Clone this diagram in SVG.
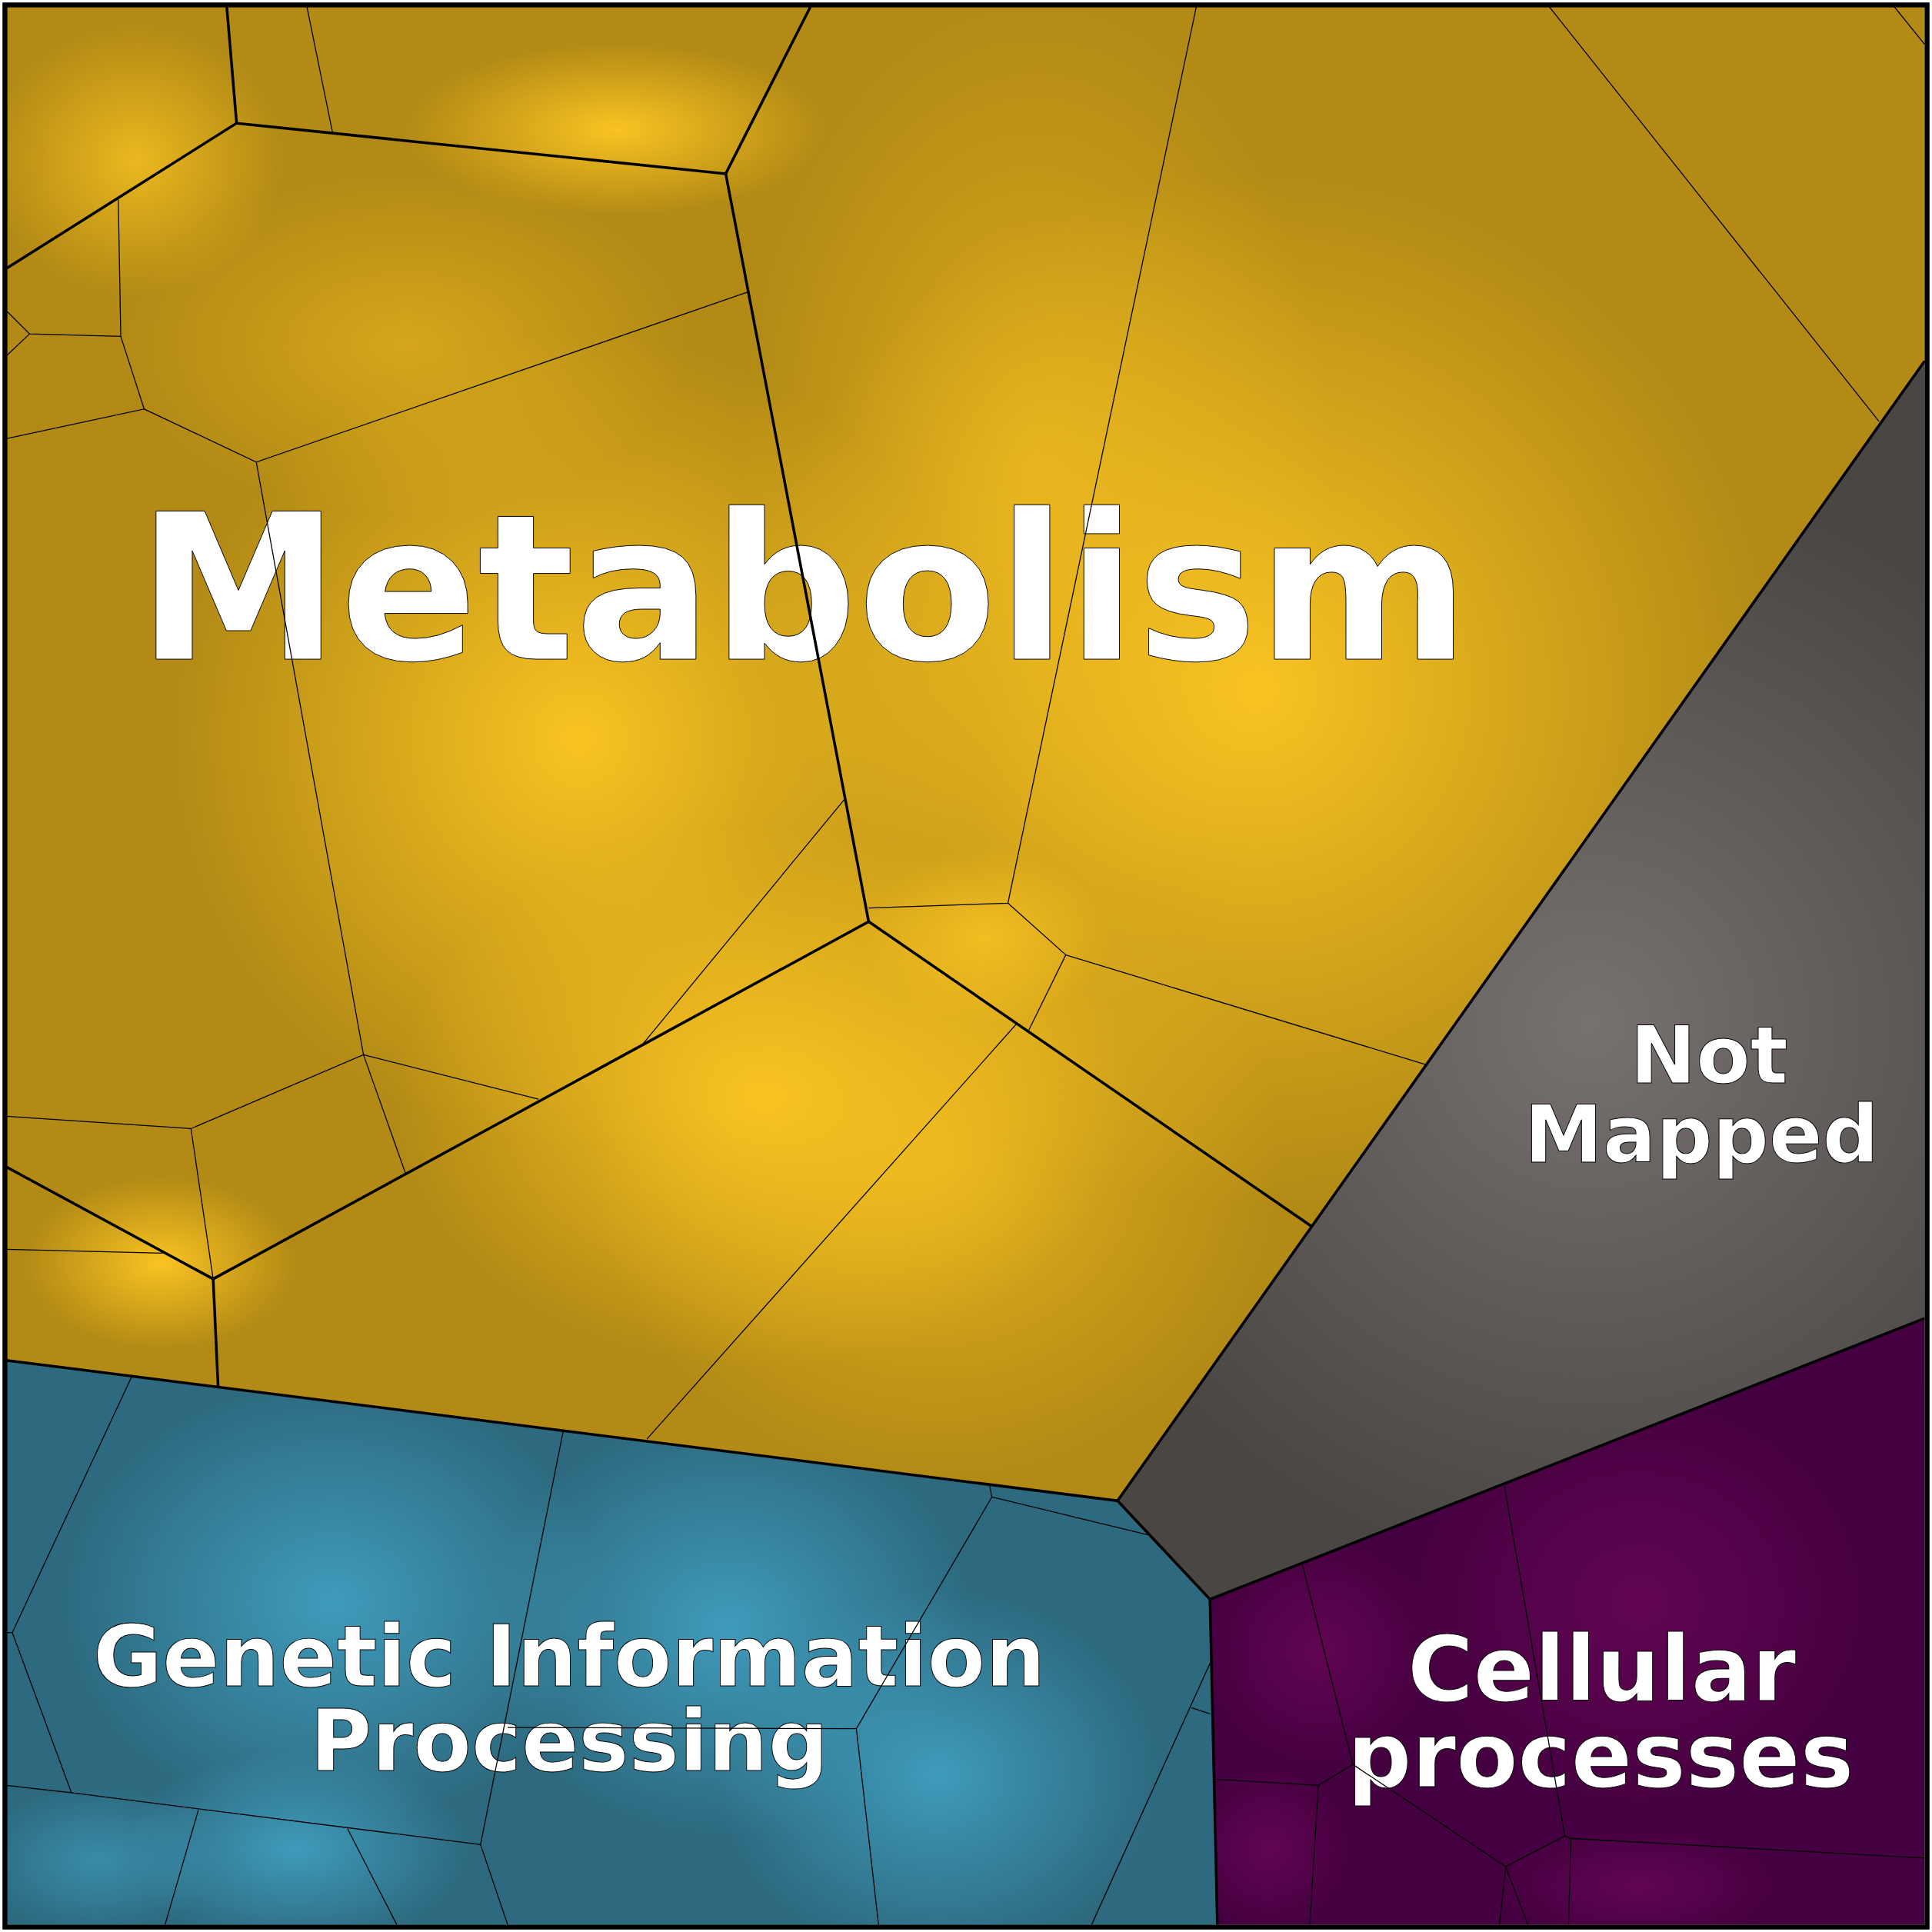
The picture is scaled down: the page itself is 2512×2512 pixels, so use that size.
<svg xmlns="http://www.w3.org/2000/svg" width="2512" height="2512" viewBox="0 0 2512 2512">
<defs>
<radialGradient id="gm" cx="0.5" cy="0.5" r="0.5"><stop offset="0" stop-color="#f9c322"/><stop offset="1" stop-color="#f9c322" stop-opacity="0"/></radialGradient>
<radialGradient id="gg" cx="0.5" cy="0.5" r="0.5"><stop offset="0" stop-color="#3f9bbb"/><stop offset="1" stop-color="#3f9bbb" stop-opacity="0"/></radialGradient>
<radialGradient id="gc" cx="0.5" cy="0.5" r="0.5"><stop offset="0" stop-color="#620552"/><stop offset="1" stop-color="#620552" stop-opacity="0"/></radialGradient>
<radialGradient id="gn" cx="1290" cy="830" r="450" gradientUnits="userSpaceOnUse"><stop offset="0" stop-color="#777170"/><stop offset="1" stop-color="#4a4644"/></radialGradient>
<clipPath id="cm"><polygon points="5,5 1562,5 1562,293 907,1218 5,1104"/></clipPath>
<clipPath id="cg"><polygon points="5,1104 907,1218 982,1298 988,1562 5,1562"/></clipPath>
<clipPath id="cc"><polygon points="982,1298 1562,1070 1562,1562 988,1562"/></clipPath>
<style>
.thin{fill:none;stroke:#000;stroke-width:0.8}
.thick{fill:none;stroke:#000;stroke-width:2.2}
.lbl{font-family:"DejaVu Sans",sans-serif;font-weight:bold;fill:#fff;stroke:#000;stroke-width:0.6;text-anchor:middle}
</style>
</defs>
<g transform="scale(1.60204)">
<g id="metabolism">
<polygon points="5,5 1562,5 1562,293 907,1218 5,1104" fill="#b28a15"/>
<g clip-path="url(#cm)">
<ellipse cx="470" cy="600" rx="330" ry="330" fill="url(#gm)"/>
<ellipse cx="1020" cy="560" rx="420" ry="420" fill="url(#gm)"/>
<ellipse cx="620" cy="890" rx="300" ry="220" fill="url(#gm)"/>
<ellipse cx="760" cy="940" rx="280" ry="260" fill="url(#gm)" opacity="0.7"/>
<ellipse cx="840" cy="380" rx="240" ry="380" fill="url(#gm)" opacity="0.6"/>
<ellipse cx="500" cy="105" rx="170" ry="70" fill="url(#gm)"/>
<ellipse cx="110" cy="130" rx="120" ry="110" fill="url(#gm)" opacity="0.8"/>
<ellipse cx="130" cy="1025" rx="110" ry="70" fill="url(#gm)"/>
<ellipse cx="330" cy="280" rx="230" ry="140" fill="url(#gm)" opacity="0.5"/>
<ellipse cx="800" cy="760" rx="100" ry="70" fill="url(#gm)" opacity="0.8"/>
</g>
<text class="lbl" x="652" y="535" font-size="165">Metabolism</text>
</g>
<g id="not-mapped">
<polygon points="1562,293 1562,1070 982,1298 907,1218" fill="url(#gn)"/>
<text class="lbl" font-size="64"><tspan x="1387" y="879">Not</tspan><tspan x="1381" y="943">Mapped</tspan></text>
</g>
<g id="genetic">
<polygon points="5,1104 907,1218 982,1298 988,1562 5,1562" fill="#2d6a7f"/>
<g clip-path="url(#cg)">
<ellipse cx="270" cy="1300" rx="220" ry="180" fill="url(#gg)"/>
<ellipse cx="590" cy="1320" rx="200" ry="170" fill="url(#gg)"/>
<ellipse cx="760" cy="1440" rx="180" ry="150" fill="url(#gg)"/>
<ellipse cx="240" cy="1500" rx="140" ry="80" fill="url(#gg)"/>
<ellipse cx="80" cy="1510" rx="100" ry="60" fill="url(#gg)" opacity="0.7"/>
</g>
<text class="lbl" font-size="68.5"><tspan x="462" y="1368">Genetic Information</tspan><tspan x="462" y="1437">Processing</tspan></text>
</g>
<g id="cellular">
<polygon points="982,1298 1562,1070 1562,1562 988,1562" fill="#440040"/>
<g clip-path="url(#cc)">
<ellipse cx="1330" cy="1300" rx="200" ry="180" fill="url(#gc)"/>
<ellipse cx="1070" cy="1340" rx="100" ry="100" fill="url(#gc)"/>
<ellipse cx="1030" cy="1500" rx="70" ry="70" fill="url(#gc)"/>
<ellipse cx="1330" cy="1530" rx="120" ry="50" fill="url(#gc)"/>
</g>
<text class="lbl" font-size="73"><tspan x="1300" y="1380">Cellular</tspan><tspan x="1299" y="1450">processes</tspan></text>
</g>
<g id="connectors">
<polyline class="thin" points="249,5 270,108"/>
<polyline class="thin" points="96,162 98,273 24,271 5,252"/>
<polyline class="thin" points="24,271 5,289"/>
<polyline class="thin" points="98,273 117,332 5,356"/>
<polyline class="thin" points="117,332 208,375 607,237"/>
<polyline class="thin" points="208,375 295,856 155,916 5,906"/>
<polyline class="thin" points="155,916 173,1038"/>
<polyline class="thin" points="295,856 329,952"/>
<polyline class="thin" points="295,856 437,892"/>
<polyline class="thin" points="522,847 686,648"/>
<polyline class="thin" points="971,5 818,733 705,737"/>
<polyline class="thin" points="818,733 865,775 835,836"/>
<polyline class="thin" points="865,775 1157,864"/>
<polyline class="thin" points="825,831 525,1168"/>
<polyline class="thin" points="1257,5 1525,342"/>
<polyline class="thin" points="1537,5 1562,36"/>
<polyline class="thin" points="5,1014 132,1017"/>
<polyline class="thick" points="184,5 192,100 5,218"/>
<polyline class="thick" points="192,100 589,141 658,5"/>
<polyline class="thick" points="589,141 705,748 173,1038 5,947"/>
<polyline class="thick" points="173,1038 177,1125"/>
<polyline class="thick" points="705,748 1064,995"/>
<polyline class="thin" points="107,1117 10,1325 58,1455 5,1449"/>
<polyline class="thin" points="5,1325 10,1325"/>
<polyline class="thin" points="58,1455 390,1497 412,1562"/>
<polyline class="thin" points="457,1162 390,1497"/>
<polyline class="thin" points="161,1469 134,1562"/>
<polyline class="thin" points="282,1484 322,1562"/>
<polyline class="thin" points="803,1205 805,1215 695,1403 412,1402"/>
<polyline class="thin" points="805,1215 933,1246"/>
<polyline class="thin" points="695,1403 713,1562"/>
<polyline class="thin" points="982,1350 886,1562"/>
<polyline class="thin" points="967,1386 982,1391"/>
<polyline class="thin" points="1057,1270 1098,1432 1070,1449 987,1444"/>
<polyline class="thin" points="1070,1449 1063,1562"/>
<polyline class="thin" points="1221,1206 1270,1490 1222,1515 1098,1432"/>
<polyline class="thin" points="1270,1490 1275,1492 1562,1508"/>
<polyline class="thin" points="1275,1492 1273,1562"/>
<polyline class="thin" points="1222,1515 1217,1562"/>
<polyline class="thin" points="1222,1515 1240,1562"/>
<polyline class="thick" points="5,1104 907,1218 1562,293"/>
<polyline class="thick" points="907,1218 982,1298 1562,1070"/>
<polyline class="thick" points="982,1298 988,1562"/>
<rect x="4" y="4" width="1560" height="1560" fill="none" stroke="#000" stroke-width="4"/>
</g>
</g>
</svg>
